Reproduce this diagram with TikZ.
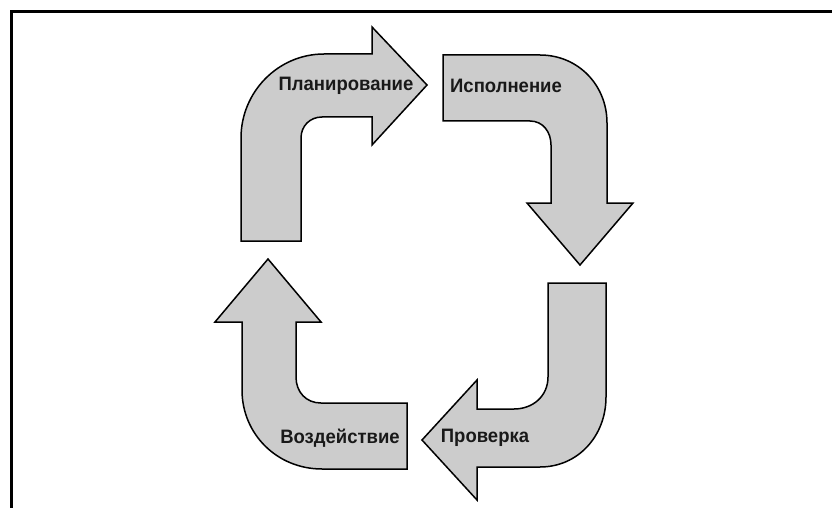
\documentclass[tikz,border=0pt]{standalone}
\usepackage{fontspec}
\setmainfont{Liberation Sans}
\begin{document}
\begin{tikzpicture}[x=1pt,y=-1pt,
  arrowshape/.style={draw=black,line width=1.5pt,fill=black!20,line join=miter},
  lbl/.style={font=\fontsize{18.5}{21}\selectfont\bfseries,inner sep=0pt,text=black!90,yscale=1.05}]
\useasboundingbox (0,0) rectangle (832,508);
\fill[white] (0,0) rectangle (832,508);
% frame
\draw[line width=3pt] (11,509) -- (11,11.5) -- (833,11.5);
% Arrow 1: Planning
\draw[arrowshape] (241,241) -- (241,138)
  .. controls (241,92) and (278,54) .. (324,54)
  -- (372,54) -- (372,27) -- (427,85) -- (372,145) -- (372,117)
  -- (322,117) .. controls (310,117) and (301,126) .. (301,138)
  -- (301,241) -- cycle;
% Arrow 2: Execution
\draw[arrowshape] (443,55) -- (540,55)
  .. controls (578,55) and (607,85) .. (607,123)
  -- (607,203) -- (633,203) -- (580,265) -- (527,203) -- (551,203)
  -- (551,145) .. controls (551,132) and (543,121) .. (530,121)
  -- (443,121) -- cycle;
% Arrow 3: Check
\draw[arrowshape] (548,283) -- (606,283) -- (606,397)
  .. controls (606,436) and (578,467) .. (540,467)
  -- (477,467) -- (477,500) -- (422,440) -- (477,380) -- (477,409)
  -- (514,409) .. controls (533,409) and (548,396) .. (548,377)
  -- cycle;
% Arrow 4: Impact
\draw[arrowshape] (407,469) -- (322,469)
  .. controls (277,469) and (242,434) .. (242,390)
  -- (242,322) -- (215,322) -- (268,259) -- (321,322) -- (296,322)
  -- (296,377) .. controls (296,392) and (306,403) .. (321,403)
  -- (407,403) -- cycle;
% labels
\node[lbl] (plan) at (346,86) {Планирование};
\node[lbl] (exec) at (506,86) {Исполнение};
\node[lbl] (check) at (485,438) {Проверка};
\node[lbl] (act) at (340,438) {Воздействие};
\end{tikzpicture}
\end{document}
